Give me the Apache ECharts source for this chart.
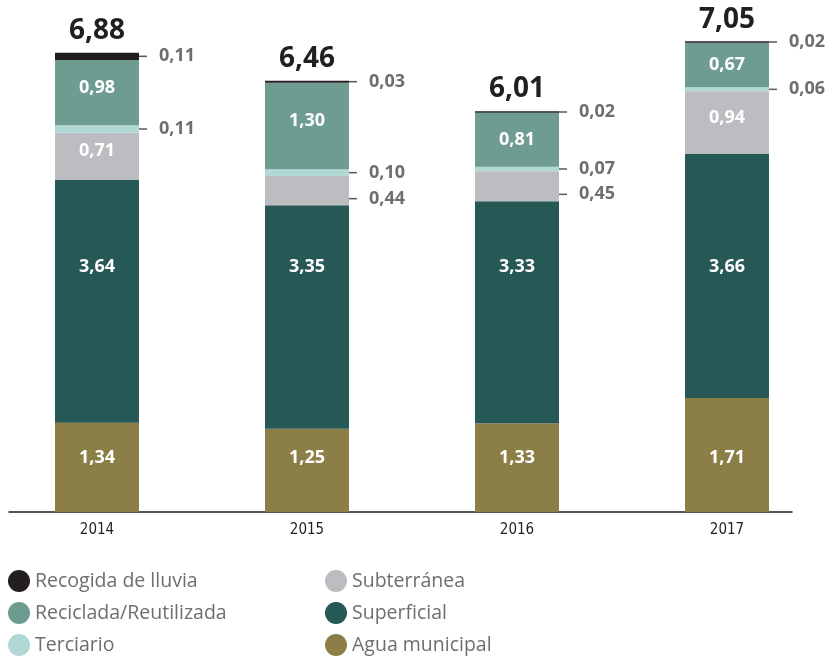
<!DOCTYPE html>
<html><head><meta charset="utf-8">
<script src="https://cdn.jsdelivr.net/npm/echarts@6/dist/echarts.min.js"></script>
<style>html,body{margin:0;padding:0;background:#fff}#c{width:840px;height:662px}</style>
</head><body><div id="c"></div>
<script>
const years = ['2014', '2015', '2016', '2017'];
const aguaMunicipal = [1.34, 1.25, 1.33, 1.71];
const superficial = [3.64, 3.35, 3.33, 3.66];
const subterranea = [0.71, 0.44, 0.45, 0.94];
const terciario = [0.11, 0.10, 0.07, 0.06];
const reciclada = [0.98, 1.30, 0.81, 0.67];
const lluvia = [0.11, 0.03, 0.02, 0.02];
const totals = [6.88, 6.46, 6.01, 7.05];

const fmt = v => v.toFixed(2).replace('.', ',');
const FONT = "'Open Sans', 'Noto Sans', sans-serif";
const GRID_TOP = 12, GRID_BOTTOM = 150, H = 662, YMAX = 7.5;
const PPU = (H - GRID_TOP - GRID_BOTTOM) / YMAX; // pixels per unit
const baseInside = {show: true, color: '#fff', fontFamily: FONT, fontWeight: 'bold', fontSize: 18, lineHeight: 20,
  formatter: p => fmt(p.value)};
const inside = Object.assign({position: 'inside'}, baseInside);
const insideUp = Object.assign({position: 'inside', offset: [0, -5]}, baseInside);
const insideAt = (dy) => Object.assign({position: 'inside', offset: [0, dy]}, baseInside);
const insideBottom = Object.assign({position: 'insideBottom', distance: 44}, baseInside);
const outside = (dy) => ({show: true, position: 'right', distance: 0, offset: [0, dy || 0],
  formatter: p => '{t|}{v|' + fmt(p.value) + '}',
  rich: {
    t: {width: 8, height: 1.5, backgroundColor: '#58595b'},
    v: {padding: [0, 0, 0, 12], color: '#6d6e71', fontFamily: FONT, fontWeight: 'bold', fontSize: 18}
  }});
const BW = 84;
function mk(name, arr, color, labelFn) {
  return {name, type: 'bar', stack: 'w', barWidth: BW, xAxisIndex: 0, yAxisIndex: 0,
    itemStyle: {color}, emphasis: {disabled: true},
    data: arr.map((v, i) => ({value: v, label: labelFn(i)}))};
}
// superficial labels aligned at a common level (as in the source layout)
const SUP_LABEL_LEVEL = 3.675;
const series = [
  mk('Agua municipal', aguaMunicipal, '#8b7f47', () => insideBottom),
  mk('Superficial', superficial, '#265856', i => insideAt(-(SUP_LABEL_LEVEL - (aguaMunicipal[i] + superficial[i] / 2)) * PPU)),
  mk('Subterránea', subterranea, '#bcbdc0', i => (subterranea[i] >= 0.6 ? insideUp : outside(8))),
  mk('Terciario', terciario, '#b2d8d5', () => outside(0)),
  mk('Reciclada/Reutilizada', reciclada, '#6e9c91', i => (reciclada[i] >= 0.9 ? insideUp : inside)),
  mk('Recogida de lluvia', lluvia, '#231f20', () => outside(0)),
  {name: 'Total', type: 'bar', barWidth: BW, barGap: '-100%', xAxisIndex: 0, yAxisIndex: 0,
    itemStyle: {color: 'rgba(0,0,0,0)'}, z: 1, silent: true,
    label: {show: true, position: 'top', distance: 8, color: '#231f20', fontFamily: FONT,
      fontWeight: 'bold', fontSize: 28, formatter: p => fmt(p.value)},
    data: totals}
];
const legendCommon = {orient: 'vertical', icon: 'circle', itemWidth: 22, itemHeight: 22, itemGap: 10,
  height: 100, padding: 0,
  textStyle: {color: '#6d6e71', fontFamily: FONT, fontSize: 19.5, lineHeight: 22}, selectedMode: false};
const chart = echarts.init(document.getElementById('c'));
chart.setOption({
  animation: false,
  grid: [
    {left: 97, right: 113, top: GRID_TOP, bottom: GRID_BOTTOM},
    {left: 9, right: 48, top: GRID_TOP, bottom: GRID_BOTTOM}
  ],
  xAxis: [
    {type: 'category', gridIndex: 0, data: years, boundaryGap: false, axisLine: {show: false}, axisTick: {show: false},
      axisLabel: {color: '#231f20', fontFamily: "'Liberation Sans Narrow', 'DejaVu Sans Condensed', sans-serif", fontSize: 15, margin: 11}},
    {type: 'category', gridIndex: 1, data: [''], axisLine: {show: true, lineStyle: {color: '#231f20', width: 1.5}},
      axisTick: {show: false}, axisLabel: {show: false}}
  ],
  yAxis: [
    {type: 'value', gridIndex: 0, min: 0, max: YMAX, show: false},
    {type: 'value', gridIndex: 1, min: 0, max: YMAX, show: false}
  ],
  legend: [
    Object.assign({left: 8, top: 570, data: ['Recogida de lluvia', 'Reciclada/Reutilizada', 'Terciario']}, legendCommon),
    Object.assign({left: 325, top: 570, data: ['Subterránea', 'Superficial', 'Agua municipal']}, legendCommon)
  ],
  series
});
</script></body></html>
